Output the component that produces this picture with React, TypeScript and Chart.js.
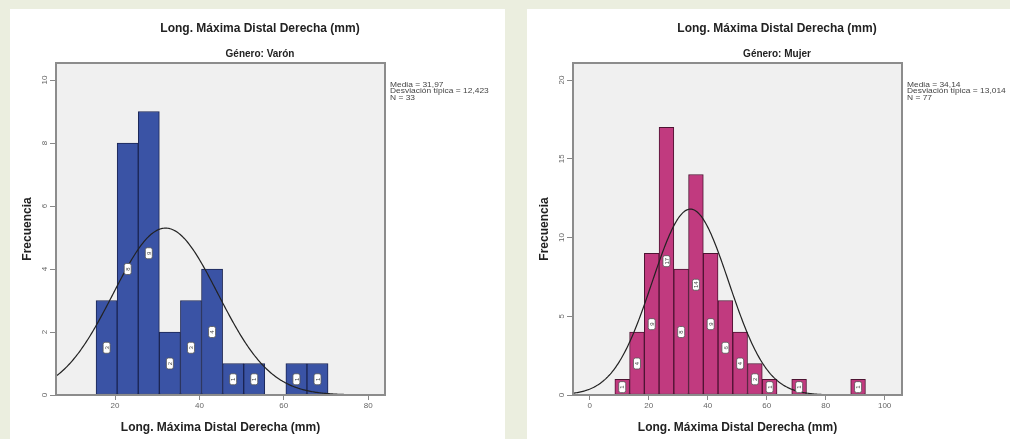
import React, { useEffect, useRef } from "react";
import { Chart, registerables } from "chart.js";

Chart.register(...registerables);

const FONT = "'Liberation Sans', Arial, Helvetica, sans-serif";

const MAIN_TITLE = "Long. Máxima Distal Derecha (mm)";
const X_TITLE = "Long. Máxima Distal Derecha (mm)";
const Y_TITLE = "Frecuencia";
const BIN_WIDTH = 5;

// ---- Género: Varón ----
const varonSubtitle = "Género: Varón";
const varonBinStarts = [15.5, 20.5, 25.5, 30.5, 35.5, 40.5, 45.5, 50.5, 55.5, 60.5, 65.5];
const varonCounts = [3, 8, 9, 2, 3, 4, 1, 1, 0, 1, 1];
const varonMean = 31.97;
const varonSd = 12.423;
const varonN = 33;
const varonStatsText = ["Media = 31,97", "Desviación típica = 12,423", "N = 33"];
const varonXTicks = [20, 40, 60, 80];
const varonYTicks = [0, 2, 4, 6, 8, 10];
const varonXMin = 6;
const varonXMax = 84;
const varonYMax = 10.54;

// ---- Género: Mujer ----
const mujerSubtitle = "Género: Mujer";
const mujerBinStarts = [8.5, 13.5, 18.5, 23.5, 28.5, 33.5, 38.5, 43.5, 48.5, 53.5, 58.5, 63.5, 68.5, 73.5, 78.5, 83.5, 88.5];
const mujerCounts = [1, 4, 9, 17, 8, 14, 9, 6, 4, 2, 1, 0, 1, 0, 0, 0, 1];
const mujerMean = 34.14;
const mujerSd = 13.014;
const mujerN = 77;
const mujerStatsText = ["Media = 34,14", "Desviación típica = 13,014", "N = 77"];
const mujerXTicks = [0, 20, 40, 60, 80, 100];
const mujerYTicks = [0, 5, 10, 15, 20];
const mujerXMin = -5.7;
const mujerXMax = 105.9;
const mujerYMax = 21.08;

type PanelProps = {
  width: number;
  height: number;
  subtitle: string;
  binStarts: number[];
  counts: number[];
  mean: number;
  sd: number;
  n: number;
  statsText: string[];
  xTicks: number[];
  yTicks: number[];
  xMin: number;
  xMax: number;
  yMax: number;
  fill: string;
  edge: string;
};

function normalCurve(mean: number, sd: number, n: number, xMin: number, xMax: number) {
  const pts: { x: number; y: number }[] = [];
  const steps = 300;
  for (let i = 0; i <= steps; i++) {
    const x = xMin + ((xMax - xMin) * i) / steps;
    const z = (x - mean) / sd;
    const y = (n * BIN_WIDTH * Math.exp(-0.5 * z * z)) / (sd * Math.sqrt(2 * Math.PI));
    pts.push({ x, y });
  }
  return pts;
}

function Histogram(p: PanelProps) {
  const ref = useRef<HTMLCanvasElement | null>(null);

  useEffect(() => {
    const canvas = ref.current;
    if (!canvas) return;

    const bars = p.binStarts.map((s, i) => ({ x: s + BIN_WIDTH / 2, y: p.counts[i] }));
    const curve = normalCurve(p.mean, p.sd, p.n, p.xMin, p.xMax);

    const decor = {
      id: "spssDecor",
      beforeDraw(chart: any) {
        const { ctx, chartArea: a } = chart;
        ctx.save();
        ctx.fillStyle = "#f0f0f0";
        ctx.fillRect(a.left, a.top, a.right - a.left, a.bottom - a.top);
        ctx.restore();
      },
      afterDatasetsDraw(chart: any) {
        const { ctx, chartArea: a } = chart;
        const meta = chart.getDatasetMeta(1);
        const ys = chart.scales.y;
        ctx.save();
        meta.data.forEach((el: any, i: number) => {
          const v = p.counts[i];
          if (!v) return;
          const cx = el.x;
          const cy = ys.getPixelForValue(v / 2);
          const w = 7;
          const h = 11;
          ctx.beginPath();
          ctx.roundRect(cx - w / 2, cy - h / 2, w, h, 2);
          ctx.fillStyle = "#ffffff";
          ctx.fill();
          ctx.lineWidth = 0.8;
          ctx.strokeStyle = "#555";
          ctx.stroke();
          ctx.save();
          ctx.translate(cx, cy);
          ctx.rotate(-Math.PI / 2);
          ctx.fillStyle = "#444";
          ctx.font = `6px ${FONT}`;
          ctx.textAlign = "center";
          ctx.textBaseline = "middle";
          ctx.fillText(String(v), 0, 0.5);
          ctx.restore();
        });
        ctx.lineWidth = 2;
        ctx.strokeStyle = "#8c8c8c";
        ctx.strokeRect(a.left, a.top, a.right - a.left, a.bottom - a.top);
        ctx.restore();
      },
      afterDraw(chart: any) {
        const { ctx, chartArea: a } = chart;
        ctx.save();
        ctx.fillStyle = "#222";
        ctx.textAlign = "center";
        ctx.textBaseline = "middle";
        ctx.font = `bold 12px ${FONT}`;
        ctx.fillText(MAIN_TITLE, 250, 20);
        ctx.font = `bold 10px ${FONT}`;
        ctx.fillText(p.subtitle, 250, 45);
        ctx.textAlign = "left";
        ctx.fillStyle = "#444";
        ctx.font = `7px ${FONT}`;
        p.statsText.forEach((t, i) => {
          ctx.save();
          ctx.translate(a.right + 5, 76 + i * 6.3);
          ctx.scale(1.2, 1);
          ctx.fillText(t, 0, 0);
          ctx.restore();
        });
        ctx.restore();
      },
    };

    const chart = new Chart(canvas, {
      type: "bar",
      data: {
        datasets: [
          {
            type: "line",
            data: curve,
            borderColor: "#222",
            borderWidth: 1.2,
            pointRadius: 0,
            fill: false,
            tension: 0,
            order: 0,
          } as any,
          {
            type: "bar",
            data: bars,
            backgroundColor: p.fill,
            borderColor: p.edge,
            borderWidth: (c: any) => (c.raw && c.raw.y > 0 ? 1 : 0),
            borderSkipped: false,
            barPercentage: 1,
            categoryPercentage: 1,
            grouped: false,
            order: 1,
          } as any,
        ],
      },
      options: {
        responsive: false,
        animation: false,
        events: [],
        layout: { padding: { left: 0, top: 54, right: p.width - 375, bottom: 0 } },
        plugins: {
          legend: { display: false },
          tooltip: { enabled: false },
          title: { display: false },
        },
        scales: {
          x: {
            type: "linear",
            min: p.xMin,
            max: p.xMax,
            offset: false,
            border: { display: false },
            grid: { drawOnChartArea: false, drawTicks: true, tickLength: 5, color: "#888", offset: false },
            ticks: { color: "#666", font: { family: FONT, size: 8 }, padding: 1, maxRotation: 0, autoSkip: false },
            afterBuildTicks: (s: any) => {
              s.ticks = p.xTicks.map((v) => ({ value: v }));
            },
            afterFit: (s: any) => {
              s.height = 44;
            },
            title: {
              display: true,
              text: X_TITLE,
              color: "#222",
              font: { family: FONT, size: 12, weight: "bold" },
              padding: { top: 0, bottom: 4 },
            },
          },
          y: {
            type: "linear",
            min: 0,
            max: p.yMax,
            border: { display: false },
            grid: { drawOnChartArea: false, drawTicks: true, tickLength: 6, color: "#888" },
            ticks: {
              color: "#666",
              font: { family: FONT, size: 8 },
              padding: 1,
              minRotation: 90,
              maxRotation: 90,
              crossAlign: "center",
              autoSkip: false,
            },
            afterBuildTicks: (s: any) => {
              s.ticks = p.yTicks.map((v) => ({ value: v }));
            },
            afterFit: (s: any) => {
              s.width = 46;
            },
            title: {
              display: true,
              text: Y_TITLE,
              color: "#222",
              font: { family: FONT, size: 12, weight: "bold" },
              padding: { top: 10, bottom: 0 },
            },
          },
        },
      } as any,
      plugins: [decor],
    });

    return () => chart.destroy();
  }, []);

  return <canvas ref={ref} width={p.width} height={p.height} style={{ display: "block" }} />;
}

export default function App() {
  return (
    <div
      style={{
        position: "fixed",
        left: 0,
        top: 0,
        width: 1010,
        height: 439,
        background: "#ebeedf",
        overflow: "hidden",
      }}
    >
      <div style={{ position: "absolute", left: 10, top: 9, width: 495, height: 430, background: "#fff" }}>
        <Histogram
          width={495}
          height={430}
          subtitle={varonSubtitle}
          binStarts={varonBinStarts}
          counts={varonCounts}
          mean={varonMean}
          sd={varonSd}
          n={varonN}
          statsText={varonStatsText}
          xTicks={varonXTicks}
          yTicks={varonYTicks}
          xMin={varonXMin}
          xMax={varonXMax}
          yMax={varonYMax}
          fill="#3a53a5"
          edge="#1b2553"
        />
      </div>
      <div style={{ position: "absolute", left: 527, top: 9, width: 483, height: 430, background: "#fff" }}>
        <Histogram
          width={483}
          height={430}
          subtitle={mujerSubtitle}
          binStarts={mujerBinStarts}
          counts={mujerCounts}
          mean={mujerMean}
          sd={mujerSd}
          n={mujerN}
          statsText={mujerStatsText}
          xTicks={mujerXTicks}
          yTicks={mujerYTicks}
          xMin={mujerXMin}
          xMax={mujerXMax}
          yMax={mujerYMax}
          fill="#c13a7f"
          edge="#4d1332"
        />
      </div>
    </div>
  );
}
